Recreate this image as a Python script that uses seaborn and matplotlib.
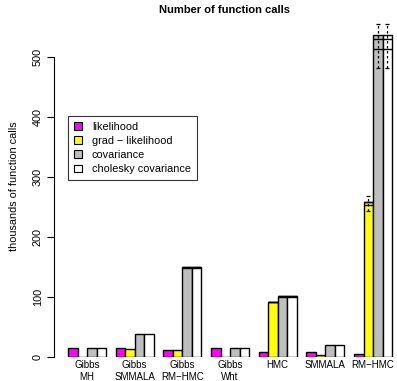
import numpy as np
import pandas as pd
import matplotlib
matplotlib.use("Agg")
import matplotlib.pyplot as plt
import seaborn as sns
from matplotlib.patches import Patch

methods = ["Gibbs\nMH", "Gibbs\nSMMALA", "Gibbs\nRM\u2212HMC", "Gibbs\nWht", "HMC", "SMMALA", "RM\u2212HMC"]
series = ["likelihood", "grad \u2212 likelihood", "covariance", "cholesky covariance"]
likelihood = [15, 15, 12, 15, 9, 9, 5]
grad_likelihood = [0, 13, 12, 0, 92, 4, 259]
covariance = [15, 38, 150, 15, 101, 20, 537]
cholesky = [15, 38, 150, 15, 101, 20, 537]
# whisker ends (low, high) per series, None where no error bar is drawn
whisk_grad = [None, None, None, None, None, None, (244, 269)]
whisk_cov = [None, None, None, None, None, None, (482, 555)]
whisk_chol = [None, None, None, None, None, None, (482, 555)]
# inner band lines drawn across the bar width
band_grad = [None, None, None, None, (91, 92), None, (253, 259)]
band_cov = [None, None, (148, 150), None, (100, 101), None, (513, 530)]
band_chol = [None, None, (148, 150), None, (100, 101), None, (513, 530)]
colors = ["#FF00FF", "#FFFF00", "#BEBEBE", "#FFFFFF"]

plt.rcParams["font.family"] = ["Liberation Sans", "DejaVu Sans"]

values = [likelihood, grad_likelihood, covariance, cholesky]
whisks = [[None] * 7, whisk_grad, whisk_cov, whisk_chol]
bands = [[None] * 7, band_grad, band_cov, band_chol]
rows = []
for j, s in enumerate(series):
    for g, m in enumerate(methods):
        rows.append({"pos": g * 5 + j + 1.5, "value": values[j][g], "series": s})
df = pd.DataFrame(rows)

fig = plt.figure(figsize=(3.97, 3.81), dpi=100)
ax = fig.add_axes([54 / 397, (381 - 357) / 381, (395 - 54) / 397, (357 - 15) / 381])

sns.barplot(data=df, x="pos", y="value", hue="series", hue_order=series,
            palette=colors, saturation=1, native_scale=True, dodge=False, width=1.0,
            edgecolor="black", linewidth=1.0, errorbar=None, legend=False, ax=ax)

for j in range(len(series)):
    for g in range(len(methods)):
        x = g * 5 + j + 1.5
        w = whisks[j][g]
        if w is not None:
            ax.vlines(x, w[0], w[1], colors="black", linewidth=0.9,
                      linestyles=(0, (2, 2)), clip_on=False, zorder=5)
            ax.hlines([w[0], w[1]], x - 0.22, x + 0.22, colors="black",
                      linewidth=0.9, clip_on=False, zorder=5)
        b = bands[j][g]
        if b is not None:
            ax.hlines([b[0], b[1]], x - 0.5, x + 0.5, colors="black",
                      linewidth=1.0, zorder=5)

ax.set_xlim(-0.47, 35.3)
ax.set_ylim(0, 570)
ax.set_xticks([g * 5 + 3 for g in range(len(methods))])
ax.set_xticklabels(methods, fontsize=7, linespacing=1.22)
ax.tick_params(axis="x", length=0, pad=2)
ax.set_yticks([0, 100, 200, 300, 400, 500])
ax.set_yticklabels(["0", "100", "200", "300", "400", "500"], fontsize=7.8, rotation=90, va="center")
ax.tick_params(axis="y", length=5, width=0.8, pad=3)
for sp in ["top", "right", "bottom"]:
    ax.spines[sp].set_visible(False)
ax.spines["left"].set_bounds(0, 500)
ax.spines["left"].set_linewidth(0.8)
ax.set_xlabel("")
ax.set_ylabel("thousands of function calls", fontsize=7.8, labelpad=10)
ax.patch.set_visible(False)

handles = [Patch(facecolor=c, edgecolor="black", linewidth=0.8) for c in colors]
leg = fig.legend(handles, series, loc="upper left", bbox_to_anchor=(68 / 397, 1 - 116 / 381),
                 fontsize=7.8, frameon=True, fancybox=False, handlelength=0.75, handleheight=0.75,
                 handletextpad=0.9, borderpad=0.55, labelspacing=0.38, borderaxespad=0)
leg.get_frame().set_edgecolor("black")
leg.get_frame().set_linewidth(0.8)

fig.suptitle("Number of function calls", fontsize=8, fontweight="bold", x=224.5 / 397, y=1 - 5 / 381, va="top")

fig.savefig("out.png", dpi=100)
